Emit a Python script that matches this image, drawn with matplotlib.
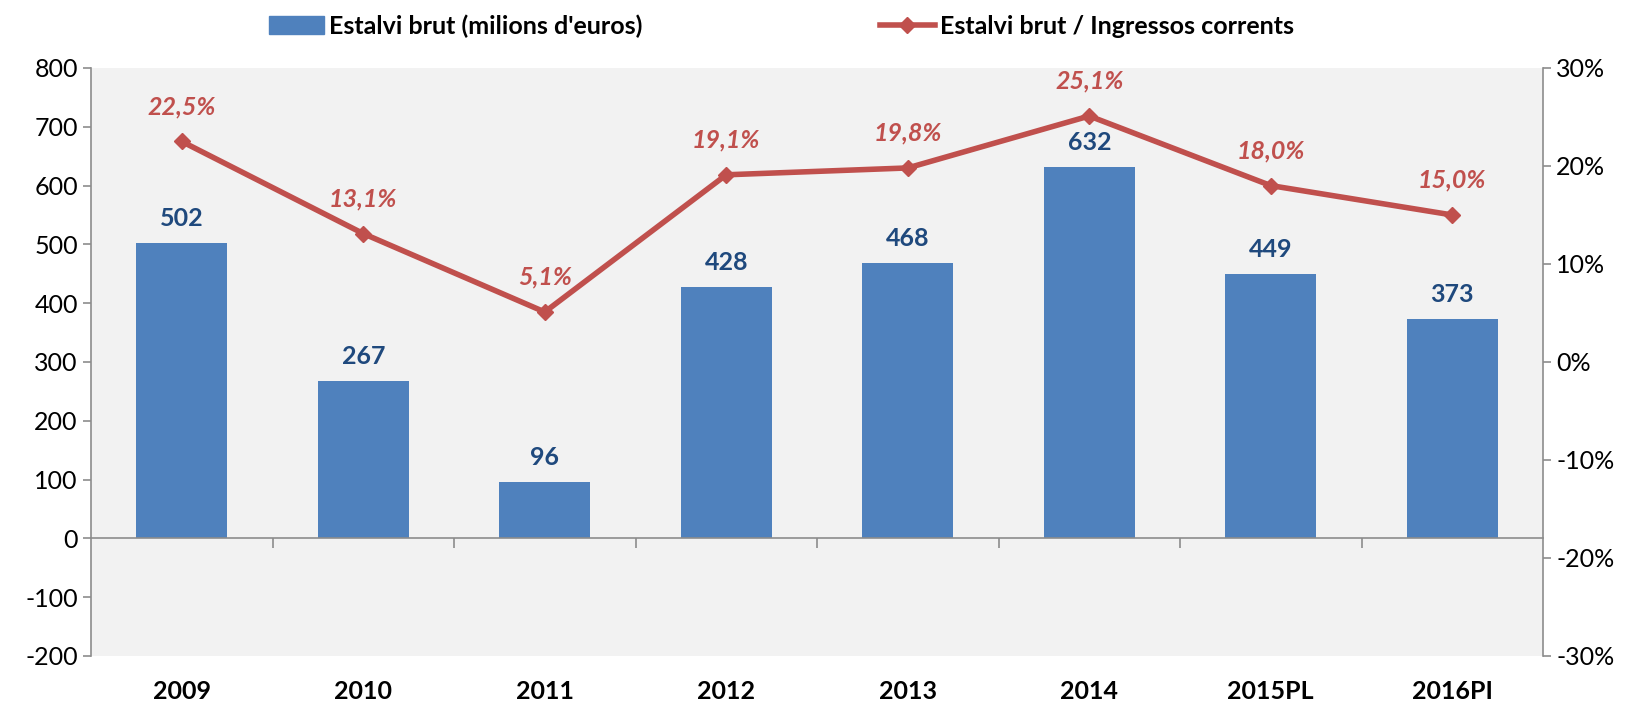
import numpy as np
import matplotlib.pyplot as plt
from matplotlib.lines import Line2D
from matplotlib.patches import Patch

plt.rcParams['font.family'] = ['Lato', 'DejaVu Sans']
plt.rcParams['axes.unicode_minus'] = False

years = ['2009', '2010', '2011', '2012', '2013', '2014', '2015PL', '2016PI']
estalvi = [502, 267, 96, 428, 468, 632, 449, 373]
ratio = [22.5, 13.1, 5.1, 19.1, 19.8, 25.1, 18.0, 15.0]

blue = '#4F81BD'
red = '#C0504D'
navy = '#1F497D'
grey = '#8C8C8C'
fs = 18

fig = plt.figure(figsize=(16.28, 7.03), dpi=100)
ax = fig.add_axes([0.0559, 0.0669, 0.8919, 0.8364])
ax.set_facecolor('#F2F2F2')

x = np.arange(len(years))
ax.bar(x, estalvi, width=0.5, color=blue, zorder=2)
for xi, v in zip(x, estalvi):
    ax.text(xi, v + 22, str(v), ha='center', va='bottom', fontsize=fs,
            fontweight='bold', color=navy, zorder=5)

ax.set_xlim(-0.5, len(years) - 0.5)
ax.set_ylim(-200, 800)
ax.set_yticks(range(-200, 801, 100))
ax.tick_params(axis='y', labelsize=fs, length=6, color=grey, width=1.2)

# x axis drawn at zero, ticks between categories
ax.spines['bottom'].set_position(('data', 0))
ax.spines['top'].set_visible(False)
ax.spines['right'].set_visible(False)
for s in ['bottom', 'left']:
    ax.spines[s].set_color(grey)
    ax.spines[s].set_linewidth(1.2)
ax.set_xticks(x[:-1] + 0.5, minor=True)
ax.set_xticks([])
ax.tick_params(axis='x', which='minor', length=7, color=grey, width=1.2)
for xi, lab in zip(x, years):
    ax.text(xi, -0.06, lab, transform=ax.get_xaxis_transform(), ha='center',
            va='center', fontsize=fs, fontweight='bold')

ax2 = ax.twinx()
ax2.set_ylim(-30, 30)
ax2.set_yticks(range(-30, 31, 10))
ax2.set_yticklabels([f'{t}%' for t in range(-30, 31, 10)])
ax2.tick_params(axis='y', labelsize=fs, length=6, color=grey, width=1.2)
for s in ['top', 'left', 'bottom']:
    ax2.spines[s].set_visible(False)
ax2.spines['right'].set_color(grey)
ax2.spines['right'].set_linewidth(1.2)
ax2.plot(x, ratio, color=red, lw=4, marker='D', markersize=8, zorder=4)
for xi, r in zip(x, ratio):
    ax2.text(xi, r + 2.4, f'{r:.1f}%'.replace('.', ','), ha='center',
             va='bottom', fontsize=fs, fontweight='bold', style='italic',
             color=red)

handles = [Patch(color=blue, label="Estalvi brut (milions d'euros)"),
           Line2D([0], [0], color=red, lw=4, marker='D', markersize=8,
                  label='Estalvi brut / Ingressos corrents')]
leg = fig.legend(handles=handles, loc='center', bbox_to_anchor=(0.48, 0.963),
                 ncol=2, frameon=False, columnspacing=9.5, handlelength=2.2,
                 handletextpad=0.2, prop={'size': fs, 'weight': 'bold'})

fig.savefig('out.png', dpi=100)
